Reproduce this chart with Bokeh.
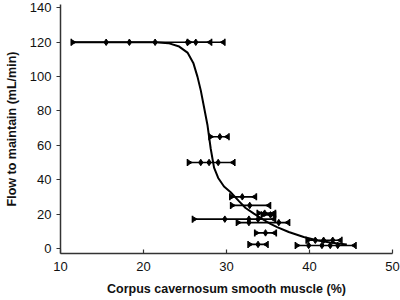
import numpy as np
from bokeh.plotting import figure
from bokeh.models import Range1d, ColumnDataSource
from bokeh.embed import file_html
from bokeh.resources import INLINE

# fitted curve
curve_x = [11.3, 21.4, 23.0, 24.3, 25.3, 26.0, 26.5, 26.9, 27.3, 27.7, 28.1, 28.5,
           29.0, 29.7, 30.5, 31.5, 32.3, 33.3, 34.5, 35.3, 36.1, 37.5, 39.3, 41.0,
           42.5, 43.7, 44.5]
curve_y = [120, 120, 119.5, 117.5, 114, 108, 100, 92, 82, 72, 58, 47,
           41, 36, 32.7, 27.5, 23.5, 20.2, 16.5, 14.2, 12.4, 9.5, 6.6, 4.6,
           3.4, 2.7, 2.3]

# horizontal error bars: flow value, lower and upper smooth-muscle %
bar_y = [120, 120, 65, 50, 30, 25, 20.5, 19.5, 17, 15, 9, 4.7, 2.3, 1.7]
bar_lo = [11.3, 25.3, 27.9, 25.3, 30.4, 30.5, 33.7, 34.2, 25.9, 31.2, 33.4, 39.6, 32.6, 38.3]
bar_hi = [29.8, 28.2, 30.3, 31.0, 33.6, 35.3, 35.9, 35.9, 35.9, 37.6, 36.0, 43.9, 35.0, 45.6]

# mean points
dot_x = [15.5, 18.3, 21.4, 25.3, 26.3, 29.2, 26.9, 27.9, 29.0, 31.9, 32.8,
         34.6, 35.3, 29.8, 32.7, 33.8, 32.7, 36.3, 34.7, 40.7, 41.7, 42.8,
         33.8, 39.9, 41.5, 42.5, 43.4]
dot_y = [120, 120, 120, 120, 120, 65, 50, 50, 50, 30, 25,
         20.5, 19.5, 17, 17, 17, 15, 15, 9, 4.7, 4.7, 4.7,
         2.3, 1.7, 1.7, 1.7, 1.7]

x_ticks = [10, 20, 30, 40, 50]
y_ticks = [0, 20, 40, 60, 80, 100, 120, 140]

p = figure(width=400, height=300, x_range=Range1d(10, 50), y_range=Range1d(-3, 142),
           output_backend="svg", toolbar_location=None,
           min_border_left=60, min_border_right=8, min_border_top=4, min_border_bottom=47)
p.xgrid.visible = False
p.ygrid.visible = False
p.outline_line_color = None
p.background_fill_color = "white"
p.border_fill_color = "white"

font = "Liberation Sans"
for ax in (p.xaxis[0], p.yaxis[0]):
    ax.axis_line_color = "#333333"
    ax.axis_line_width = 1.5
    ax.major_tick_line_color = "#333333"
    ax.major_tick_line_width = 1.2
    ax.minor_tick_line_color = None
    ax.major_label_text_font = font
    ax.major_label_text_font_size = "13px"
    ax.major_label_text_color = "#111111"
    ax.axis_label_text_font = font
    ax.axis_label_text_font_size = "12.5px"
    ax.axis_label_text_font_style = "bold"
    ax.axis_label_text_color = "#111111"

p.xaxis.ticker = x_ticks
p.yaxis.ticker = y_ticks
p.xaxis.major_tick_in = 4
p.xaxis.major_tick_out = 0
p.yaxis.major_tick_in = 0
p.yaxis.major_tick_out = 4
p.xaxis.major_label_standoff = 8
p.yaxis.major_label_standoff = 5
p.xaxis.axis_label = "Corpus cavernosum smooth muscle (%)"
p.yaxis.axis_label = "Flow to maintain (mL/min)"
p.xaxis.axis_label_standoff = 8
p.yaxis.axis_label_standoff = 8

bars = ColumnDataSource(dict(y=bar_y, lo=bar_lo, hi=bar_hi))
p.segment(x0="lo", y0="y", x1="hi", y1="y", source=bars, line_color="black", line_width=1.6)

# caps: end bar plus small filled triangle pointing inward
off = 0.25
lo_arr = np.array(bar_lo)
hi_arr = np.array(bar_hi)
p.scatter(x=bar_lo, y=bar_y, marker="dash", angle=np.pi / 2, size=7, line_color="black", line_width=1.6)
p.scatter(x=bar_hi, y=bar_y, marker="dash", angle=np.pi / 2, size=7, line_color="black", line_width=1.6)
p.scatter(x=list(lo_arr + off), y=bar_y, marker="triangle", angle=-np.pi / 2, size=4.5,
          fill_color="black", line_color="black")
p.scatter(x=list(hi_arr - off), y=bar_y, marker="triangle", angle=np.pi / 2, size=4.5,
          fill_color="black", line_color="black")

p.scatter(x=dot_x, y=dot_y, marker="diamond", size=6.5, fill_color="black", line_color="black")

p.line(curve_x, curve_y, line_color="black", line_width=2)

open("out.html", "w").write(file_html(p, INLINE))
